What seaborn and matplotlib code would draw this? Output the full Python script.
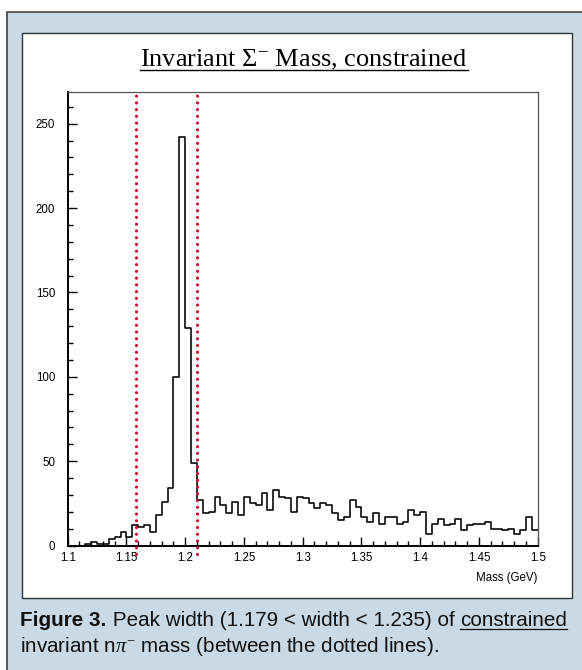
import numpy as np
import pandas as pd
import seaborn as sns
import matplotlib.pyplot as plt
from matplotlib.patches import Rectangle
from matplotlib.lines import Line2D
from matplotlib.ticker import FixedLocator, MultipleLocator

# histogram: 80 bins of 5 MeV between 1.1 and 1.5 GeV
mass_lo, mass_hi, n_bins = 1.1, 1.5, 80
counts = [
    0, 0, 0, 1, 2, 1, 1, 4, 5, 8,
    5, 12, 11, 12, 8, 18, 26, 34, 100, 242,
    129, 49, 27, 19, 20, 29, 24, 19, 26, 18,
    29, 25, 24, 31, 21, 33, 29, 28, 20, 29,
    28, 25, 22, 25, 24, 19, 15, 17, 27, 23,
    17, 14, 19, 13, 17, 17, 13, 14, 21, 18,
    20, 7, 13, 16, 12, 13, 16, 9, 12, 13,
    13, 14, 10, 10, 9, 10, 7, 9, 17, 9,
]
cut_lines = [1.1585, 1.2098]
x_ticks = [1.1, 1.15, 1.2, 1.25, 1.3, 1.35, 1.4, 1.45, 1.5]
x_tick_labels = ["1.1", "1.15", "1.2", "1.25", "1.3", "1.35", "1.4", "1.45", "1.5"]
y_ticks = [0, 50, 100, 150, 200, 250]
y_max = 269

title = r"Invariant $\Sigma^{-}$ Mass, constrained"
caption_1 = [("Figure 3.", "bold", False), (" Peak width (1.179 < width < 1.235) of ", "normal", False),
             ("constrained", "normal", True)]
caption_2 = [(r"invariant n$\pi^{-}$ mass (between the dotted lines).", "normal", False)]

W, H = 582, 670
BLUE = "#c9d9e5"
RED = "#c8102e"

plt.rcParams["font.family"] = ["Liberation Sans", "DejaVu Sans"]
plt.rcParams["mathtext.fontset"] = "custom"
plt.rcParams["mathtext.rm"] = "Liberation Serif"
plt.rcParams["mathtext.it"] = "Liberation Serif:italic"
plt.rcParams["mathtext.bf"] = "Liberation Serif:bold"


def fxy(x, y):
    # pixel coords from top-left -> figure fraction
    return x / W, 1 - y / H


fig = plt.figure(figsize=(W / 100, H / 100), dpi=100)
fig.patch.set_facecolor("white")

# frames (kept behind the axes)
x0, y0 = fxy(7, 672)
x1, y1 = fxy(590, 12)
fig.patches.append(Rectangle((x0, y0), x1 - x0, y1 - y0, transform=fig.transFigure,
                             facecolor=BLUE, edgecolor="#444444", lw=1.2, zorder=-10))
x0, y0 = fxy(21.5, 598)
x1, y1 = fxy(572, 33)
fig.patches.append(Rectangle((x0, y0), x1 - x0, y1 - y0, transform=fig.transFigure,
                             facecolor="white", edgecolor="#333333", lw=1.0, zorder=-9))

# main axes
left, bottom = fxy(67.7, 545.5)
right, top = fxy(537.7, 91.7)
ax = fig.add_axes([left, bottom, right - left, top - bottom])
ax.set_facecolor("white")

edges = np.linspace(mass_lo, mass_hi, n_bins + 1)
df = pd.DataFrame({"mass": (edges[:-1] + edges[1:]) / 2, "entries": counts})
sns.histplot(data=df, x="mass", weights="entries", bins=edges.tolist(), element="step",
             fill=False, color="black", linewidth=1.15, ax=ax)

for xc in cut_lines:
    ax.plot([xc, xc], [-5, y_max - 0.5], color=RED, lw=2.3, clip_on=False,
            linestyle=(0, (0.01, 2.1)), dash_capstyle="round", zorder=5)

ax.set_xlim(mass_lo, mass_hi)
ax.set_ylim(0, y_max)
ax.xaxis.set_major_locator(FixedLocator(x_ticks))
ax.set_xticklabels(x_tick_labels)
ax.xaxis.set_minor_locator(MultipleLocator(0.01))
ax.yaxis.set_major_locator(FixedLocator(y_ticks))
ax.yaxis.set_minor_locator(MultipleLocator(10))
ax.tick_params(which="both", direction="in", top=False, right=False, width=1.0, color="black")
ax.tick_params(which="major", length=6.5, labelsize=8.3)
ax.tick_params(which="minor", length=3.6)
ax.tick_params(axis="x", pad=4.5)
ax.tick_params(axis="y", pad=9)
ax.set_ylabel("")
ax.set_xlabel("")
for s in ["left", "bottom"]:
    ax.spines[s].set_linewidth(1.4)
    ax.spines[s].set_color("black")
for s in ["top", "right"]:
    ax.spines[s].set_linewidth(0.9)
    ax.spines[s].set_color("#555555")

fig.text(*fxy(537.7, 581), "Mass (GeV)", ha="right", va="baseline", fontsize=8.3)

# title with underline
renderer = fig.canvas.get_renderer()
t = fig.text(*fxy(304, 66), title, ha="center", va="baseline", fontsize=19,
             family="Liberation Serif")
bb = t.get_window_extent(renderer)
uy = (66 + 3.5)
fig.add_artist(Line2D([bb.x0 / W, bb.x1 / W], [1 - uy / H, 1 - uy / H],
                      transform=fig.transFigure, color="black", lw=1.0))


def text_row(pieces, x_start, baseline, size):
    x = x_start
    for txt, weight, underline in pieces:
        tt = fig.text(*fxy(x, baseline), txt, ha="left", va="baseline",
                      fontsize=size, fontweight=weight, color="#111111")
        b = tt.get_window_extent(renderer)
        if underline:
            ly = 1 - (baseline + 2.5) / H
            fig.add_artist(Line2D([b.x0 / W, b.x1 / W], [ly, ly], transform=fig.transFigure,
                                  color="#111111", lw=0.9))
        x = b.x1


text_row(caption_1, 20.5, 626, 14.9)
text_row(caption_2, 20.5, 652, 14.9)

fig.savefig("out.png", dpi=100)
